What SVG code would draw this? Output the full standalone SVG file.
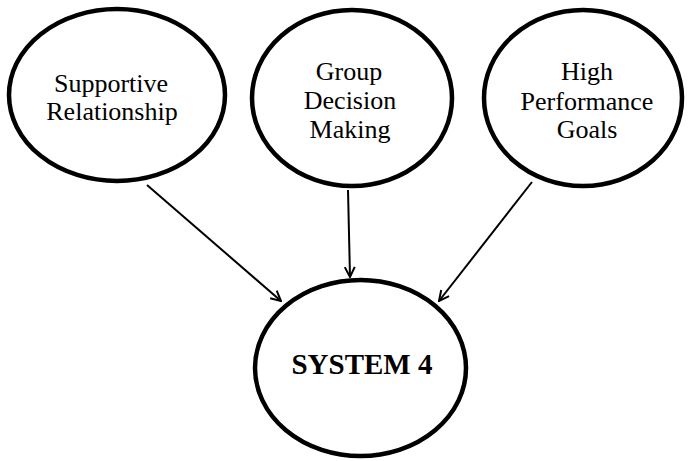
<svg xmlns="http://www.w3.org/2000/svg" width="690" height="461" viewBox="0 0 690 461">
  <defs>
    <style>
      .node ellipse { fill: #ffffff; stroke: #000000; stroke-width: 4.5; }
      .label { font-size: 26px; fill: #000000; text-anchor: middle; }
      .title { font-size: 29px; font-weight: bold; fill: #000000; text-anchor: middle; }
      .edge { stroke: #000000; stroke-width: 2; fill: none; marker-end: url(#arrow); }
    </style>
    <marker id="arrow" viewBox="0 0 12 12" refX="11" refY="6" markerWidth="12" markerHeight="12" markerUnits="userSpaceOnUse" orient="auto">
      <path d="M1,1 L11,6 L1,11" fill="none" stroke="#000000" stroke-width="2" stroke-linejoin="miter"/>
    </marker>
  </defs>
  <rect width="690" height="461" fill="#ffffff"/>

  <g id="connectors">
    <line class="edge" x1="147" y1="185" x2="281" y2="301"/>
    <line class="edge" x1="348" y1="190" x2="350" y2="277"/>
    <line class="edge" x1="532" y1="182" x2="439" y2="301"/>
  </g>

  <g font-family="Liberation Serif, Times New Roman, serif">
    <g id="supportive-relationship" class="node">
      <ellipse cx="117" cy="95" rx="108" ry="86"/>
      <text class="label" x="111" y="92">Supportive</text>
      <text class="label" x="112" y="120">Relationship</text>
    </g>

    <g id="group-decision-making" class="node">
      <ellipse cx="352" cy="98" rx="100" ry="88"/>
      <text class="label" x="349" y="80">Group</text>
      <text class="label" x="350" y="109">Decision</text>
      <text class="label" x="350" y="138">Making</text>
    </g>

    <g id="high-performance-goals" class="node">
      <ellipse cx="583" cy="98" rx="99" ry="88"/>
      <text class="label" x="587" y="80">High</text>
      <text class="label" x="587" y="110">Performance</text>
      <text class="label" x="587" y="138">Goals</text>
    </g>

    <g id="system-4" class="node">
      <ellipse cx="360.5" cy="368" rx="105.5" ry="88"/>
      <text class="title" x="362" y="374">SYSTEM 4</text>
    </g>
  </g>
</svg>
